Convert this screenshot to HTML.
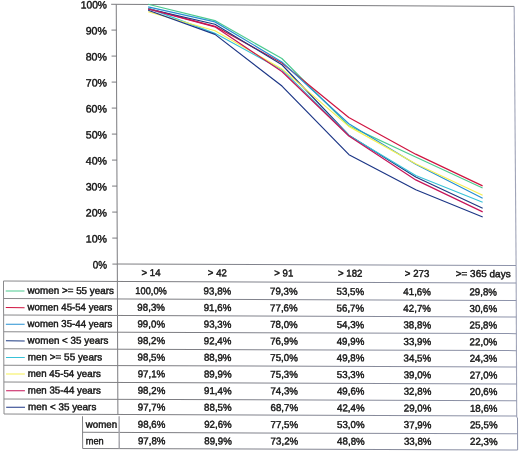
<!DOCTYPE html>
<html><head><meta charset="utf-8"><title>chart</title>
<style>html,body{margin:0;padding:0;background:#fff}svg{display:block}</style></head>
<body>
<svg width="520" height="452" viewBox="0 0 520 452">
<rect width="520" height="452" fill="#fff"/>
<defs><linearGradient id="gl" gradientUnits="userSpaceOnUse" x1="0" y1="0" x2="520" y2="0"><stop offset="0" stop-color="#8a8a8c"/><stop offset="0.3" stop-color="#7c7c80"/><stop offset="1" stop-color="#8e94ac"/></linearGradient></defs>
<g transform="matrix(1 0.0036 0.004 1 -1.056 -0.421)">
<g stroke="#6c6c70" stroke-width="0.9" fill="none">
<line x1="112.20" y1="4.30" x2="117.30" y2="4.30"/>
<line x1="117.30" y1="4.30" x2="515.20" y2="5.00"/>
<line x1="117.30" y1="4.30" x2="117.30" y2="414.50"/>
<line x1="112.40" y1="264.10" x2="117.30" y2="264.10"/>
<line x1="112.40" y1="238.10" x2="117.30" y2="238.10"/>
<line x1="112.40" y1="212.10" x2="117.30" y2="212.10"/>
<line x1="112.40" y1="186.10" x2="117.30" y2="186.10"/>
<line x1="112.40" y1="160.10" x2="117.30" y2="160.10"/>
<line x1="112.40" y1="134.10" x2="117.30" y2="134.10"/>
<line x1="112.40" y1="108.10" x2="117.30" y2="108.10"/>
<line x1="112.40" y1="82.10" x2="117.30" y2="82.10"/>
<line x1="112.40" y1="56.10" x2="117.30" y2="56.10"/>
<line x1="112.40" y1="30.10" x2="117.30" y2="30.10"/>
</g>
<g stroke="#a0a4b8" stroke-width="1.1" fill="none">
<line x1="515.20" y1="5.00" x2="516.10" y2="264.10"/>
<line x1="516.10" y1="264.10" x2="516.10" y2="416.00"/>
</g>
<g stroke="url(#gl)" stroke-width="1" fill="none">
<line x1="117.30" y1="264.10" x2="516.10" y2="264.10"/>
<line x1="3.40" y1="281.50" x2="516.10" y2="281.50"/>
<line x1="3.40" y1="299.00" x2="516.10" y2="299.00"/>
<line x1="3.40" y1="315.50" x2="516.10" y2="315.50"/>
<line x1="3.40" y1="332.20" x2="516.10" y2="332.20"/>
<line x1="3.40" y1="349.20" x2="516.10" y2="349.20"/>
<line x1="3.40" y1="365.60" x2="516.10" y2="365.60"/>
<line x1="3.40" y1="382.50" x2="516.10" y2="382.50"/>
<line x1="3.40" y1="399.30" x2="516.10" y2="399.30"/>
<line x1="3.40" y1="414.50" x2="516.10" y2="414.50"/>
<line x1="81.90" y1="432.40" x2="516.90" y2="432.40"/>
<line x1="81.90" y1="448.60" x2="516.90" y2="448.60"/>
<line x1="3.40" y1="281.50" x2="3.40" y2="414.50"/>
<line x1="81.90" y1="416.30" x2="81.90" y2="448.60"/>
<line x1="118.50" y1="416.30" x2="118.50" y2="448.60" stroke="#a4a4aa" stroke-width="1.4"/>
<line x1="516.90" y1="416.00" x2="516.90" y2="448.60"/>
</g>
<g fill="none" stroke-width="1.2" stroke-linejoin="round">
<polyline stroke="#4cca90" points="149.2,4.10 215.9,20.22 282.7,57.92 349.4,125.00 416.1,155.94 482.9,186.62"/>
<polyline stroke="#d01440" points="149.2,8.52 215.9,25.94 282.7,62.34 349.4,116.68 416.1,153.08 482.9,184.54"/>
<polyline stroke="#2690d2" points="149.2,6.70 215.9,21.52 282.7,61.30 349.4,122.92 416.1,163.22 482.9,197.02"/>
<polyline stroke="#1c3a82" points="149.2,8.78 215.9,23.86 282.7,64.16 349.4,134.36 416.1,175.96 482.9,206.90"/>
<polyline stroke="#38c2d8" points="149.2,8.00 215.9,32.96 282.7,69.10 349.4,134.62 416.1,174.40 482.9,200.92"/>
<polyline stroke="#f6f052" points="149.2,11.64 215.9,30.36 282.7,68.32 349.4,125.52 416.1,162.70 482.9,193.90"/>
<polyline stroke="#c61458" points="149.2,8.78 215.9,26.46 282.7,70.92 349.4,135.14 416.1,178.82 482.9,210.54"/>
<polyline stroke="#1c3686" points="149.2,10.08 215.9,34.00 282.7,85.48 349.4,153.86 416.1,188.70 482.9,215.74"/>
</g>
<g font-family="'Liberation Sans', Arial, sans-serif" text-rendering="geometricPrecision" font-size="10" fill="#141414" stroke="#141414" stroke-width="0.42">
<text x="92.70" y="268.60" font-size="10.7" textLength="14.3" lengthAdjust="spacingAndGlyphs">0%</text>
<text x="85.80" y="242.60" font-size="10.7" textLength="21.3" lengthAdjust="spacingAndGlyphs">10%</text>
<text x="85.91" y="216.60" font-size="10.7" textLength="21.3" lengthAdjust="spacingAndGlyphs">20%</text>
<text x="86.01" y="190.60" font-size="10.7" textLength="21.3" lengthAdjust="spacingAndGlyphs">30%</text>
<text x="86.12" y="164.60" font-size="10.7" textLength="21.3" lengthAdjust="spacingAndGlyphs">40%</text>
<text x="86.22" y="138.60" font-size="10.7" textLength="21.3" lengthAdjust="spacingAndGlyphs">50%</text>
<text x="86.32" y="112.60" font-size="10.7" textLength="21.3" lengthAdjust="spacingAndGlyphs">60%</text>
<text x="86.43" y="86.60" font-size="10.7" textLength="21.3" lengthAdjust="spacingAndGlyphs">70%</text>
<text x="86.53" y="60.60" font-size="10.7" textLength="21.3" lengthAdjust="spacingAndGlyphs">80%</text>
<text x="86.64" y="34.60" font-size="10.7" textLength="21.3" lengthAdjust="spacingAndGlyphs">90%</text>
<text x="81.74" y="8.60" font-size="10.7" textLength="26.3" lengthAdjust="spacingAndGlyphs">100%</text>
<text x="141.50" y="275.80" textLength="19" lengthAdjust="spacingAndGlyphs">&gt; 14</text>
<text x="207.80" y="275.80" textLength="19" lengthAdjust="spacingAndGlyphs">&gt; 42</text>
<text x="274.20" y="275.80" textLength="19" lengthAdjust="spacingAndGlyphs">&gt; 91</text>
<text x="337.95" y="275.80" textLength="24.5" lengthAdjust="spacingAndGlyphs">&gt; 182</text>
<text x="404.75" y="275.80" textLength="24.5" lengthAdjust="spacingAndGlyphs">&gt; 273</text>
<text x="455.60" y="275.80" textLength="55" lengthAdjust="spacingAndGlyphs">&gt;= 365 days</text>
<line x1="5.60" y1="291.35" x2="24.40" y2="291.35" stroke="#4cca90" stroke-width="1"/>
<text x="27.30" y="294.05" textLength="86.5" lengthAdjust="spacingAndGlyphs">women &gt;= 55 years</text>
<text x="135.20" y="294.05" textLength="31.6" lengthAdjust="spacingAndGlyphs">100,0%</text>
<text x="203.50" y="294.05" textLength="27.6" lengthAdjust="spacingAndGlyphs">93,8%</text>
<text x="269.90" y="294.05" textLength="27.6" lengthAdjust="spacingAndGlyphs">79,3%</text>
<text x="336.40" y="294.05" textLength="27.6" lengthAdjust="spacingAndGlyphs">53,5%</text>
<text x="403.20" y="294.05" textLength="27.6" lengthAdjust="spacingAndGlyphs">41,6%</text>
<text x="469.30" y="294.05" textLength="27.6" lengthAdjust="spacingAndGlyphs">29,8%</text>
<line x1="5.60" y1="307.97" x2="24.40" y2="307.97" stroke="#d01440" stroke-width="1"/>
<text x="27.30" y="310.67" textLength="84.75" lengthAdjust="spacingAndGlyphs">women 45-54 years</text>
<text x="137.20" y="310.67" textLength="27.6" lengthAdjust="spacingAndGlyphs">98,3%</text>
<text x="203.50" y="310.67" textLength="27.6" lengthAdjust="spacingAndGlyphs">91,6%</text>
<text x="269.90" y="310.67" textLength="27.6" lengthAdjust="spacingAndGlyphs">77,6%</text>
<text x="336.40" y="310.67" textLength="27.6" lengthAdjust="spacingAndGlyphs">56,7%</text>
<text x="403.20" y="310.67" textLength="27.6" lengthAdjust="spacingAndGlyphs">42,7%</text>
<text x="469.30" y="310.67" textLength="27.6" lengthAdjust="spacingAndGlyphs">30,6%</text>
<line x1="5.60" y1="324.59" x2="24.40" y2="324.59" stroke="#2690d2" stroke-width="1"/>
<text x="27.30" y="327.29" textLength="84.75" lengthAdjust="spacingAndGlyphs">women 35-44 years</text>
<text x="137.20" y="327.29" textLength="27.6" lengthAdjust="spacingAndGlyphs">99,0%</text>
<text x="203.50" y="327.29" textLength="27.6" lengthAdjust="spacingAndGlyphs">93,3%</text>
<text x="269.90" y="327.29" textLength="27.6" lengthAdjust="spacingAndGlyphs">78,0%</text>
<text x="336.40" y="327.29" textLength="27.6" lengthAdjust="spacingAndGlyphs">54,3%</text>
<text x="403.20" y="327.29" textLength="27.6" lengthAdjust="spacingAndGlyphs">38,8%</text>
<text x="469.30" y="327.29" textLength="27.6" lengthAdjust="spacingAndGlyphs">25,8%</text>
<line x1="5.60" y1="341.21" x2="24.40" y2="341.21" stroke="#1c3a82" stroke-width="1"/>
<text x="27.30" y="343.91" textLength="80.75" lengthAdjust="spacingAndGlyphs">women &lt; 35 years</text>
<text x="137.20" y="343.91" textLength="27.6" lengthAdjust="spacingAndGlyphs">98,2%</text>
<text x="203.50" y="343.91" textLength="27.6" lengthAdjust="spacingAndGlyphs">92,4%</text>
<text x="269.90" y="343.91" textLength="27.6" lengthAdjust="spacingAndGlyphs">76,9%</text>
<text x="336.40" y="343.91" textLength="27.6" lengthAdjust="spacingAndGlyphs">49,9%</text>
<text x="403.20" y="343.91" textLength="27.6" lengthAdjust="spacingAndGlyphs">33,9%</text>
<text x="469.30" y="343.91" textLength="27.6" lengthAdjust="spacingAndGlyphs">22,0%</text>
<line x1="5.60" y1="357.83" x2="24.40" y2="357.83" stroke="#38c2d8" stroke-width="1"/>
<text x="27.30" y="360.53" textLength="74.5" lengthAdjust="spacingAndGlyphs">men &gt;= 55 years</text>
<text x="137.20" y="360.53" textLength="27.6" lengthAdjust="spacingAndGlyphs">98,5%</text>
<text x="203.50" y="360.53" textLength="27.6" lengthAdjust="spacingAndGlyphs">88,9%</text>
<text x="269.90" y="360.53" textLength="27.6" lengthAdjust="spacingAndGlyphs">75,0%</text>
<text x="336.40" y="360.53" textLength="27.6" lengthAdjust="spacingAndGlyphs">49,8%</text>
<text x="403.20" y="360.53" textLength="27.6" lengthAdjust="spacingAndGlyphs">34,5%</text>
<text x="469.30" y="360.53" textLength="27.6" lengthAdjust="spacingAndGlyphs">24,3%</text>
<line x1="5.60" y1="374.45" x2="24.40" y2="374.45" stroke="#f6f052" stroke-width="1"/>
<text x="27.30" y="377.15" textLength="73" lengthAdjust="spacingAndGlyphs">men 45-54 years</text>
<text x="137.20" y="377.15" textLength="27.6" lengthAdjust="spacingAndGlyphs">97,1%</text>
<text x="203.50" y="377.15" textLength="27.6" lengthAdjust="spacingAndGlyphs">89,9%</text>
<text x="269.90" y="377.15" textLength="27.6" lengthAdjust="spacingAndGlyphs">75,3%</text>
<text x="336.40" y="377.15" textLength="27.6" lengthAdjust="spacingAndGlyphs">53,3%</text>
<text x="403.20" y="377.15" textLength="27.6" lengthAdjust="spacingAndGlyphs">39,0%</text>
<text x="469.30" y="377.15" textLength="27.6" lengthAdjust="spacingAndGlyphs">27,0%</text>
<line x1="5.60" y1="391.07" x2="24.40" y2="391.07" stroke="#c61458" stroke-width="1"/>
<text x="27.30" y="393.77" textLength="73" lengthAdjust="spacingAndGlyphs">men 35-44 years</text>
<text x="137.20" y="393.77" textLength="27.6" lengthAdjust="spacingAndGlyphs">98,2%</text>
<text x="203.50" y="393.77" textLength="27.6" lengthAdjust="spacingAndGlyphs">91,4%</text>
<text x="269.90" y="393.77" textLength="27.6" lengthAdjust="spacingAndGlyphs">74,3%</text>
<text x="336.40" y="393.77" textLength="27.6" lengthAdjust="spacingAndGlyphs">49,6%</text>
<text x="403.20" y="393.77" textLength="27.6" lengthAdjust="spacingAndGlyphs">32,8%</text>
<text x="469.30" y="393.77" textLength="27.6" lengthAdjust="spacingAndGlyphs">20,6%</text>
<line x1="5.60" y1="407.69" x2="24.40" y2="407.69" stroke="#1c3686" stroke-width="1"/>
<text x="27.30" y="410.39" textLength="68.5" lengthAdjust="spacingAndGlyphs">men &lt; 35 years</text>
<text x="137.20" y="410.39" textLength="27.6" lengthAdjust="spacingAndGlyphs">97,7%</text>
<text x="203.50" y="410.39" textLength="27.6" lengthAdjust="spacingAndGlyphs">88,5%</text>
<text x="269.90" y="410.39" textLength="27.6" lengthAdjust="spacingAndGlyphs">68,7%</text>
<text x="336.40" y="410.39" textLength="27.6" lengthAdjust="spacingAndGlyphs">42,4%</text>
<text x="403.20" y="410.39" textLength="27.6" lengthAdjust="spacingAndGlyphs">29,0%</text>
<text x="469.30" y="410.39" textLength="27.6" lengthAdjust="spacingAndGlyphs">18,6%</text>
<text x="85.00" y="427.80" textLength="31.5" lengthAdjust="spacingAndGlyphs">women</text>
<text x="137.20" y="427.58" textLength="27.6" lengthAdjust="spacingAndGlyphs">98,6%</text>
<text x="203.50" y="427.46" textLength="27.6" lengthAdjust="spacingAndGlyphs">92,6%</text>
<text x="269.90" y="427.34" textLength="27.6" lengthAdjust="spacingAndGlyphs">77,5%</text>
<text x="336.40" y="427.22" textLength="27.6" lengthAdjust="spacingAndGlyphs">53,0%</text>
<text x="403.20" y="427.10" textLength="27.6" lengthAdjust="spacingAndGlyphs">37,9%</text>
<text x="469.30" y="426.98" textLength="27.6" lengthAdjust="spacingAndGlyphs">25,5%</text>
<text x="85.00" y="444.40" textLength="18" lengthAdjust="spacingAndGlyphs">men</text>
<text x="137.20" y="444.18" textLength="27.6" lengthAdjust="spacingAndGlyphs">97,8%</text>
<text x="203.50" y="444.06" textLength="27.6" lengthAdjust="spacingAndGlyphs">89,9%</text>
<text x="269.90" y="443.94" textLength="27.6" lengthAdjust="spacingAndGlyphs">73,2%</text>
<text x="336.40" y="443.82" textLength="27.6" lengthAdjust="spacingAndGlyphs">48,8%</text>
<text x="403.20" y="443.70" textLength="27.6" lengthAdjust="spacingAndGlyphs">33,8%</text>
<text x="469.30" y="443.58" textLength="27.6" lengthAdjust="spacingAndGlyphs">22,3%</text>
</g>
</g>
</svg>
</body></html>
